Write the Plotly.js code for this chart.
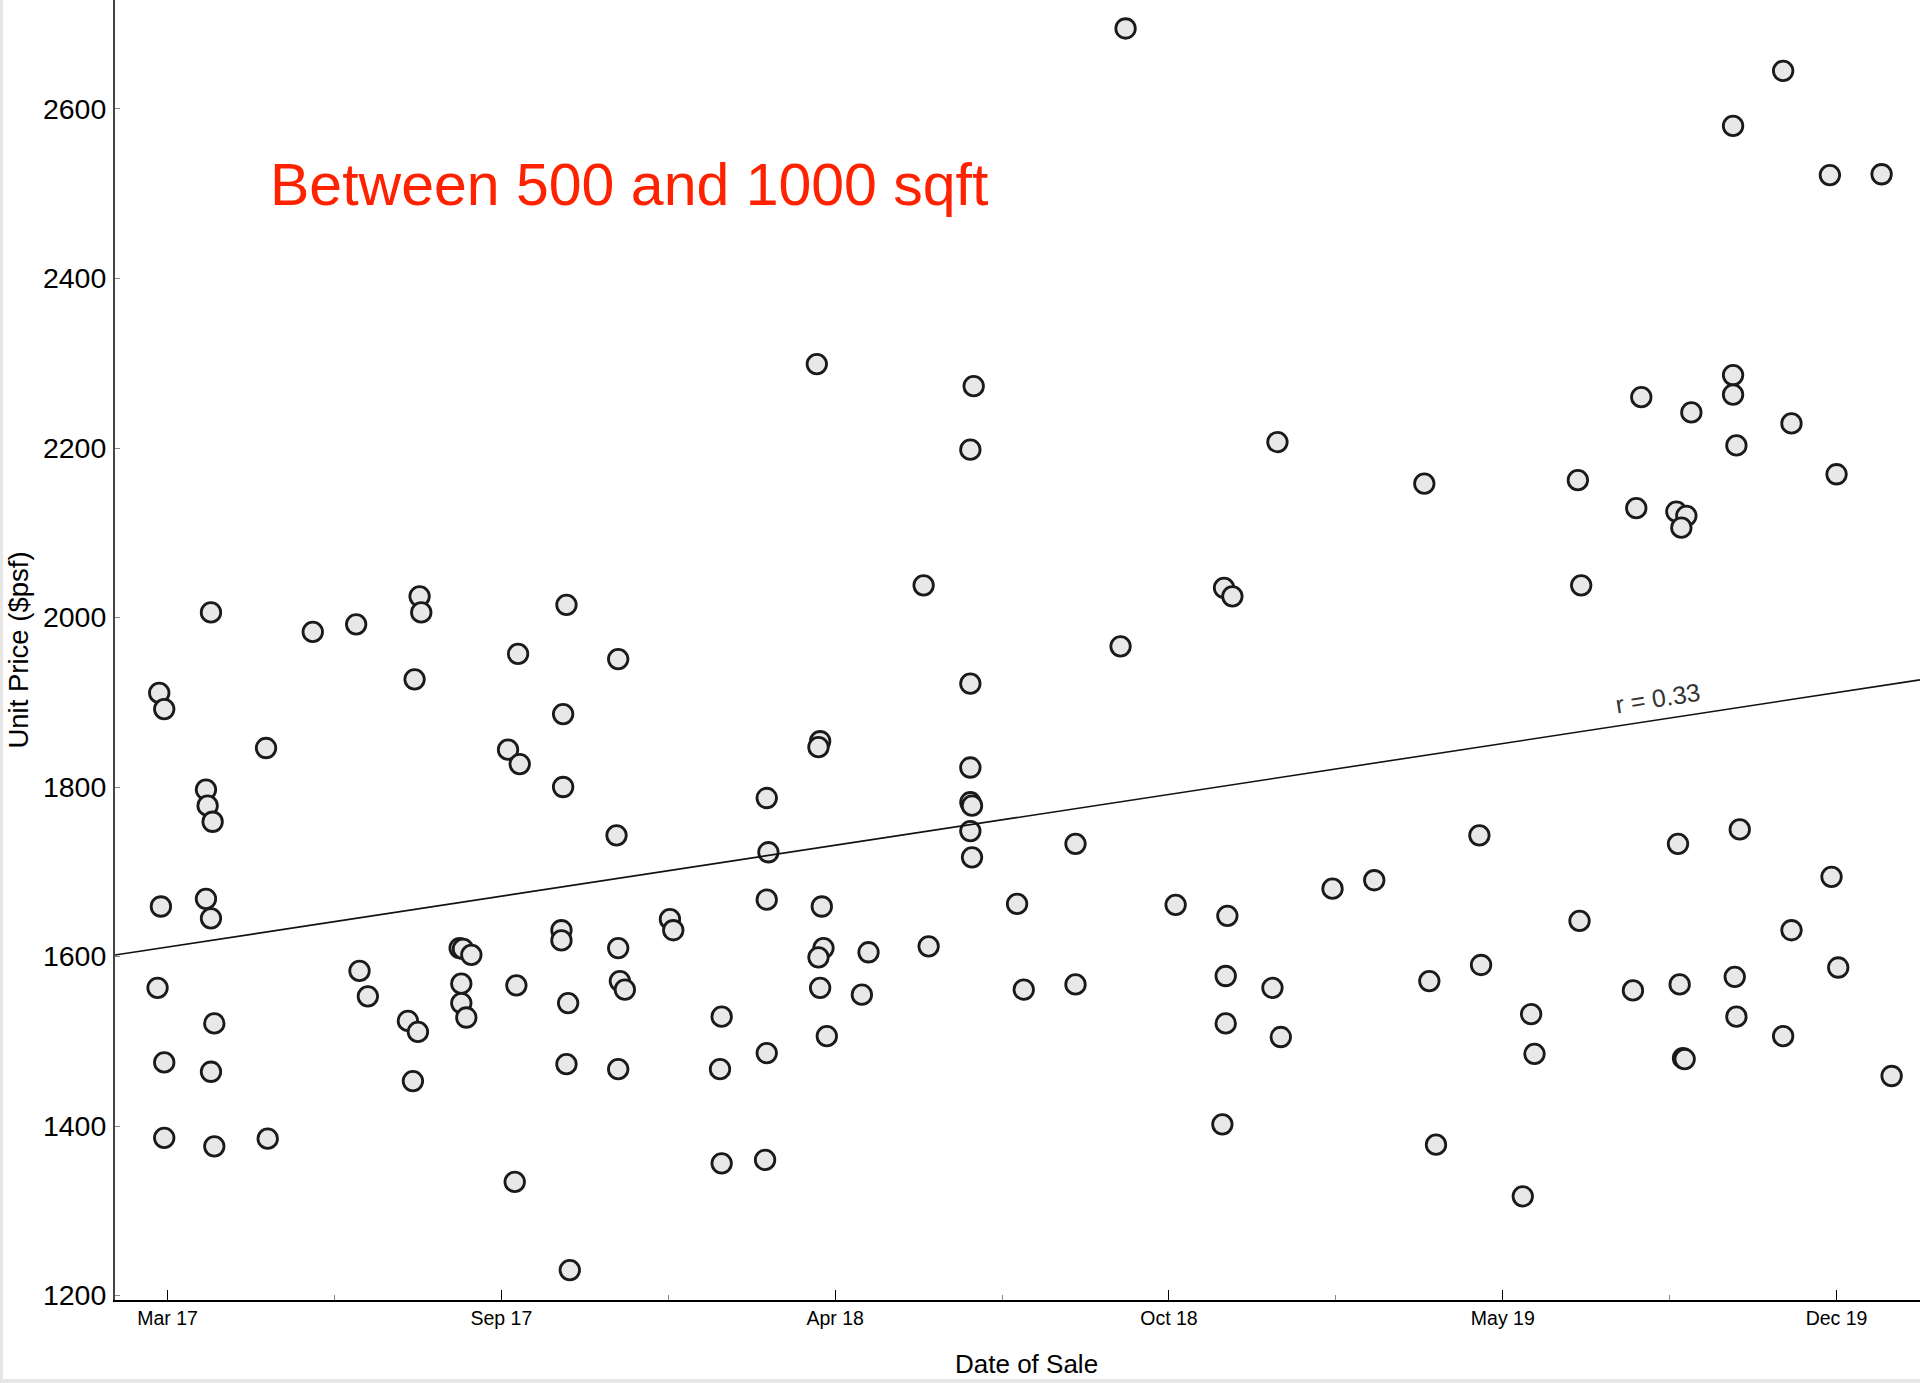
<!DOCTYPE html>
<html>
<head>
<meta charset="utf-8">
<script src="https://cdn.plot.ly/plotly-3.0.1.min.js"></script>
<style>
  body { margin: 0; background: #fff; }
  #chart { width: 1917px; height: 1379px; border-left: 3px solid #e6e6e6; border-bottom: 4px solid #e6e6e6; }
</style>
</head>
<body>
<div id="chart"></div>
<script>
// sale dates and unit prices ($psf), units between 500 and 1000 sqft
var saleDates = [
  '2017-03-04', '2017-03-05', '2017-03-08', '2017-03-06', '2017-03-08', '2017-03-08',
  '2017-04-05', '2017-04-02', '2017-04-03', '2017-04-06', '2017-04-02', '2017-04-05', '2017-04-07', '2017-04-05', '2017-04-07',
  '2017-05-08', '2017-05-09',
  '2017-06-05', '2017-07-01', '2017-07-03', '2017-07-08',
  '2017-08-08', '2017-08-09', '2017-08-05', '2017-08-01', '2017-08-07', '2017-08-04',
  '2017-09-01', '2017-09-03', '2017-09-08', '2017-09-02', '2017-09-02', '2017-09-05',
  '2017-09-30', '2017-10-07', '2017-10-06', '2017-10-05', '2017-10-04',
  '2017-11-04', '2017-11-02', '2017-11-02', '2017-11-01', '2017-11-01', '2017-11-05', '2017-11-04', '2017-11-06',
  '2017-12-05', '2017-12-04', '2017-12-05', '2017-12-06', '2017-12-09', '2017-12-05',
  '2018-01-05', '2018-01-07',
  '2018-02-05', '2018-02-04', '2018-02-05',
  '2018-03-04', '2018-03-05', '2018-03-04', '2018-03-04', '2018-03-03',
  '2018-04-03', '2018-04-05', '2018-04-04', '2018-04-06', '2018-04-07', '2018-04-04', '2018-04-05', '2018-04-09',
  '2018-04-30', '2018-05-04',
  '2018-06-06', '2018-06-09',
  '2018-07-06', '2018-07-04', '2018-07-04', '2018-07-04', '2018-07-04', '2018-07-05', '2018-07-04', '2018-07-05',
  '2018-08-01', '2018-08-05',
  '2018-09-05', '2018-09-05',
  '2018-10-05', '2018-10-02',
  '2018-11-04',
  '2018-12-03', '2018-12-08', '2018-12-05', '2018-12-04', '2018-12-04', '2018-12-02',
  '2019-01-04', '2019-01-01', '2019-01-06',
  '2019-02-06', '2019-03-03',
  '2019-04-02', '2019-04-05', '2019-04-09',
  '2019-05-05', '2019-05-06',
  '2019-06-05', '2019-06-07', '2019-05-31',
  '2019-07-03', '2019-07-05', '2019-07-04',
  '2019-08-10', '2019-08-07', '2019-08-05',
  '2019-09-09', '2019-08-31', '2019-09-06', '2019-09-03', '2019-09-01', '2019-09-02', '2019-09-04', '2019-09-05',
  '2019-10-04', '2019-10-04', '2019-10-04', '2019-10-06', '2019-10-08', '2019-10-05', '2019-10-06',
  '2019-11-03', '2019-11-08', '2019-11-08', '2019-11-03',
  '2019-12-01', '2019-12-05', '2019-12-02', '2019-12-06',
  '2020-01-01', '2020-01-07'
];

var unitPrices = [
  1563, 1911, 1892, 1659, 1475, 1386,
  2006, 1797, 1778, 1759, 1668, 1645, 1521, 1464, 1376,
  1846, 1385,
  1983, 1992, 1583, 1553,
  2025, 2006, 1927, 1524, 1511, 1453,
  1610, 1609, 1602, 1568, 1545, 1528,
  1844, 1827, 1957, 1566, 1334,
  2015, 1886, 1800, 1631, 1619, 1545, 1473, 1230,
  1951, 1743, 1610, 1571, 1561, 1467,
  1644, 1631,
  1529, 1467, 1356,
  1787, 1723, 1667, 1486, 1360,
  2299, 1854, 1847, 1659, 1610, 1599, 1563, 1506,
  1555, 1605,
  2038, 1612,
  2273, 2198, 1922, 1823, 1782, 1778, 1748, 1717,
  1662, 1561,
  1733, 1567,
  2695, 1966,
  1661,
  2035, 2025, 1648, 1577, 1521, 1402,
  2207, 1563, 1505,
  1680, 1690,
  2158, 1571, 1378,
  1743, 1590,
  1532, 1485, 1317,
  2162, 2038, 1642,
  2260, 2129, 1560,
  2242, 2125, 2120, 2106, 1733, 1567, 1480, 1479,
  2580, 2286, 2263, 2203, 1750, 1576, 1529,
  2645, 2229, 1631, 1506,
  2522, 2169, 1694, 1587,
  2523, 1459
];

var xRange = ['2017-02-06 12:00', '2020-01-24'];
var yRange = [1194.7, 2728.6];
var yTicks = [1200, 1400, 1600, 1800, 2000, 2200, 2400, 2600];
var DAY = 86400000;

// least squares fit of price against sale time
var ts = saleDates.map(function (d) { return new Date(d + 'T00:00:00Z').getTime(); });
var n = ts.length;
var mx = 0, my = 0;
for (var i = 0; i < n; i++) { mx += ts[i]; my += unitPrices[i]; }
mx /= n; my /= n;
var sxy = 0, sxx = 0, syy = 0;
for (var i = 0; i < n; i++) {
  sxy += (ts[i] - mx) * (unitPrices[i] - my);
  sxx += (ts[i] - mx) * (ts[i] - mx);
  syy += (unitPrices[i] - my) * (unitPrices[i] - my);
}
var slope = sxy / sxx;
var r = sxy / Math.sqrt(sxx * syy);
function fit(d) { return my + slope * (new Date(d.replace(' ', 'T') + 'Z').getTime() - mx); }

var fitX = [xRange[0], xRange[1]];
var fitY = fitX.map(fit);

var labelDate = '2019-08-20';

var points = {
  x: saleDates,
  y: unitPrices,
  mode: 'markers',
  type: 'scatter',
  marker: {
    size: 19.5,
    color: '#e8e8e8',
    line: { color: '#1a1a1a', width: 2.8 }
  },
  hoverinfo: 'skip'
};

var trend = {
  x: fitX,
  y: fitY,
  mode: 'lines',
  type: 'scatter',
  line: { color: '#111', width: 1.6 },
  hoverinfo: 'skip'
};

var layout = {
  width: 1917,
  height: 1379,
  margin: { l: 112, r: 0, t: 0, b: 79 },
  paper_bgcolor: '#fff',
  plot_bgcolor: '#fff',
  showlegend: false,
  font: { family: 'Liberation Sans, Arial, sans-serif', color: '#000' },
  xaxis: {
    type: 'date',
    range: xRange,
    tick0: '2017-03-10',
    dtick: 200 * DAY,
    tickformat: '%b %y',
    ticks: 'inside',
    ticklen: 10,
    tickwidth: 1,
    tickcolor: '#000',
    minor: { tick0: '2017-03-10', dtick: 100 * DAY, ticks: 'inside', ticklen: 5, tickcolor: '#888' },
    showgrid: false,
    zeroline: false,
    showline: true,
    linecolor: '#000',
    linewidth: 2,
    tickfont: { size: 19.5 }
  },
  yaxis: {
    range: yRange,
    tickvals: yTicks,
    ticks: 'inside',
    ticklen: 5,
    tickcolor: '#888',
    showgrid: false,
    zeroline: false,
    showline: true,
    linecolor: '#444',
    linewidth: 2,
    tickfont: { size: 28.5 },
    ticklabelstandoff: 1,
    title: { text: 'Unit Price ($psf)', font: { size: 27.5 }, standoff: 12 }
  },
  annotations: [
    {
      xref: 'paper', yref: 'paper',
      x: 0.285, y: 0.858,
      xanchor: 'center', yanchor: 'middle',
      text: 'Between 500 and 1000 sqft',
      showarrow: false,
      font: { size: 59, color: '#ff2200' }
    },
    {
      x: labelDate, y: fit(labelDate),
      text: 'r = ' + r.toFixed(2),
      showarrow: false,
      textangle: -8.7,
      yshift: 22,
      font: { size: 25, color: '#333' }
    },
    {
      // x axis title sits a little right of the plot centre in the original
      xref: 'paper', yref: 'paper',
      x: 0.505, y: 0, yshift: -64,
      xanchor: 'center', yanchor: 'middle',
      text: 'Date of Sale',
      showarrow: false,
      font: { size: 26 }
    }
  ]
};

Plotly.newPlot('chart', [points, trend], layout, { staticPlot: true });
</script>
</body>
</html>
